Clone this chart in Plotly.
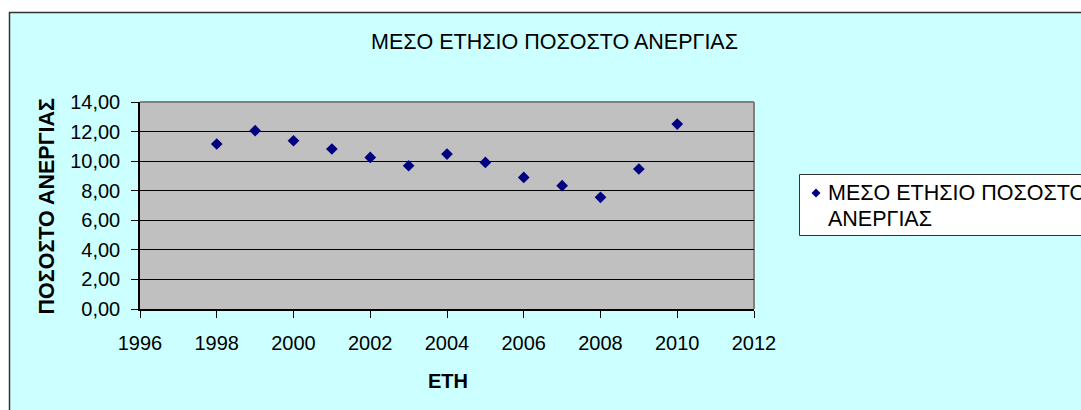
import plotly.graph_objects as go

years = [1998, 1999, 2000, 2001, 2002, 2003, 2004, 2005, 2006, 2007, 2008, 2009, 2010]
rate = [11.16, 12.06, 11.38, 10.82, 10.25, 9.69, 10.48, 9.91, 8.90, 8.34, 7.55, 9.47, 12.51]
series_name = "ΜΕΣΟ ΕΤΗΣΙΟ ΠΟΣΟΣΤΟ ΑΝΕΡΓΙΑΣ"
legend_lines = ["ΜΕΣΟ ΕΤΗΣΙΟ ΠΟΣΟΣΤΟ", "ΑΝΕΡΓΙΑΣ"]
chart_title = "ΜΕΣΟ ΕΤΗΣΙΟ ΠΟΣΟΣΤΟ ΑΝΕΡΓΙΑΣ"
x_title = "ΕΤΗ"
y_title = "ΠΟΣΟΣΤΟ ΑΝΕΡΓΙΑΣ"

W, H = 1081, 410
L, R, T, B = 140, 327, 102, 101
pw, ph = W - L - R, H - T - B


def px(p):  # page x pixel -> paper x
    return (p - L) / pw


def py(p):  # page y pixel -> paper y
    return (H - B - p) / ph


font = "Liberation Sans, Arial, sans-serif"
NAVY = "#000080"

fig = go.Figure()
fig.add_trace(go.Scatter(
    x=years, y=rate, mode="markers", name=series_name,
    marker=dict(symbol="diamond", size=9, color=NAVY),
    showlegend=False,
))

# legend diamond
dcx, dcy, dr = 816, 193, 4.5
diamond_path = "M {x0} {y0} L {x1} {y1} L {x2} {y2} L {x3} {y3} Z".format(
    x0=px(dcx), y0=py(dcy - dr), x1=px(dcx + dr), y1=py(dcy),
    x2=px(dcx), y2=py(dcy + dr), x3=px(dcx - dr), y3=py(dcy))

shapes = [
    # white strips outside chart area
    dict(type="rect", xref="paper", yref="paper",
         x0=px(-10), x1=px(1200), y0=py(12), y1=py(-10),
         line=dict(width=0), fillcolor="white", layer="above"),
    dict(type="rect", xref="paper", yref="paper",
         x0=px(-10), x1=px(9), y0=py(500), y1=py(-10),
         line=dict(width=0), fillcolor="white", layer="above"),
    # chart area border
    dict(type="rect", xref="paper", yref="paper",
         x0=px(9.5), x1=px(1200), y0=py(600), y1=py(12.5),
         line=dict(color="#333333", width=1.5), fillcolor="rgba(0,0,0,0)", layer="above"),
    # plot area border (top/right grey)
    dict(type="line", xref="paper", yref="paper", x0=0, x1=1, y0=1, y1=1,
         line=dict(color="#808080", width=2), layer="below"),
    dict(type="line", xref="paper", yref="paper", x0=1, x1=1, y0=0, y1=1,
         line=dict(color="#808080", width=2), layer="below"),
    # legend box
    dict(type="rect", xref="paper", yref="paper",
         x0=px(799.5), x1=px(1200), y0=py(235.5), y1=py(174.5),
         line=dict(color="#333333", width=1), fillcolor="white", layer="above"),
    dict(type="path", xref="paper", yref="paper", path=diamond_path,
         line=dict(width=0), fillcolor=NAVY, layer="above"),
]

annotations = [
    dict(text=chart_title, xref="paper", yref="paper", x=px(554), y=py(42),
         xanchor="center", yanchor="middle", showarrow=False,
         font=dict(size=21.5, family=font, color="black")),
    dict(text="<b>" + y_title + "</b>", xref="paper", yref="paper", x=px(46), y=py(205.5),
         xanchor="center", yanchor="middle", showarrow=False, textangle=-90,
         font=dict(size=21.5, family=font, color="black")),
    dict(text="<b>" + x_title + "</b>", xref="paper", yref="paper", x=px(448), y=py(381),
         xanchor="center", yanchor="middle", showarrow=False,
         font=dict(size=20, family=font, color="black")),
    dict(text=legend_lines[0], xref="paper", yref="paper", x=px(826), y=py(193),
         xanchor="left", yanchor="middle", showarrow=False,
         font=dict(size=21.5, family=font, color="black")),
    dict(text=legend_lines[1], xref="paper", yref="paper", x=px(826), y=py(219),
         xanchor="left", yanchor="middle", showarrow=False,
         font=dict(size=21.5, family=font, color="black")),
]

fig.update_layout(
    width=W, height=H,
    margin=dict(l=L, r=R, t=T, b=B, autoexpand=False),
    paper_bgcolor="#CCFFFF",
    plot_bgcolor="#C0C0C0",
    separators=",.",
    font=dict(family=font, size=20, color="black"),
    xaxis=dict(range=[1996, 2012], dtick=2, tick0=1996, showgrid=False,
               showline=True, linecolor="black", linewidth=1.5,
               ticks="outside", ticklen=7, tickcolor="black", tickwidth=1,
               ticklabelstandoff=8,
               tickfont=dict(size=20), zeroline=False),
    yaxis=dict(range=[0, 14], dtick=2, tickformat=".2f", showgrid=True,
               gridcolor="black", gridwidth=1,
               showline=True, linecolor="black", linewidth=1.5,
               ticks="outside", ticklen=7, tickcolor="black", tickwidth=1,
               ticklabelstandoff=7,
               tickfont=dict(size=20), zeroline=False),
    showlegend=False,
    shapes=shapes,
    annotations=annotations,
)

fig.write_html(
    "out.html",
    config={"displayModeBar": False},
    post_script="document.body.style.margin='0';document.body.style.overflow='hidden';",
)
